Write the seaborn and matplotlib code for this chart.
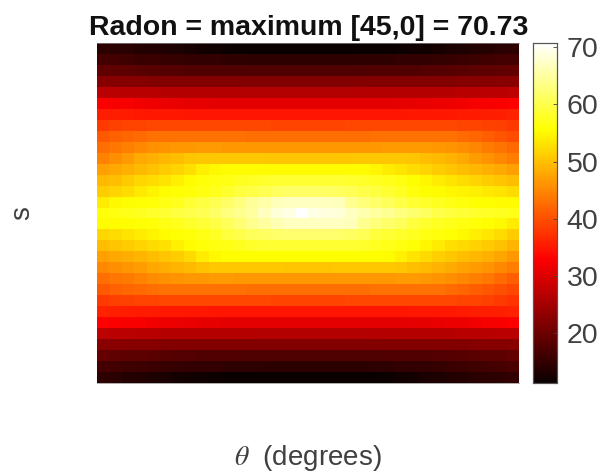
import numpy as np
import matplotlib
matplotlib.use("Agg")
import matplotlib.pyplot as plt
import seaborn as sns

title_text = "Radon = maximum [45,0] = 70.73"
x_label = r"$\theta$  (degrees)"
y_label = "s"
cbar_ticks = [20, 30, 40, 50, 60, 70]

radon_rows = [
[14.5,14.3,14.1,13.8,13.5,13.2,13.0,12.6,12.2,11.8,11.6,11.5,11.4,11.3,11.3,11.3,11.3,11.3,11.3,11.3,11.3,11.4,11.4,11.5,11.6,11.8,12.1,12.4,12.8,13.1,13.5,13.8,14.2,14.6],
[16.4,16.2,16.0,15.7,15.5,15.3,15.2,15.0,14.9,14.8,14.7,14.6,14.5,14.5,14.4,14.4,14.4,14.4,14.4,14.5,14.5,14.6,14.6,14.7,14.8,14.9,15.0,15.2,15.4,15.6,15.8,16.0,16.3,16.6],
[19.0,18.8,18.6,18.4,18.2,18.0,17.9,17.8,17.7,17.6,17.6,17.5,17.5,17.5,17.4,17.4,17.4,17.4,17.4,17.5,17.5,17.5,17.6,17.6,17.7,17.8,17.9,18.0,18.2,18.4,18.6,18.8,19.0,19.2],
[22.4,22.4,22.3,22.3,22.2,22.2,22.1,22.1,22.1,22.0,22.0,22.0,22.0,22.0,22.0,22.0,22.0,22.0,22.0,22.0,22.0,22.0,22.0,22.1,22.1,22.1,22.1,22.2,22.2,22.3,22.3,22.4,22.5,22.6],
[27.0,26.9,26.8,26.7,26.7,26.6,26.5,26.5,26.4,26.4,26.4,26.4,26.3,26.3,26.3,26.3,26.3,26.3,26.3,26.3,26.3,26.4,26.4,26.4,26.4,26.5,26.5,26.6,26.6,26.7,26.8,26.9,27.0,27.1],
[32.8,32.6,32.2,31.9,31.6,31.4,31.2,31.0,30.9,30.8,30.8,30.7,30.7,30.7,30.7,30.6,30.6,30.6,30.7,30.7,30.7,30.7,30.8,30.8,30.9,31.0,31.2,31.4,31.6,31.9,32.2,32.5,32.8,33.0],
[35.6,35.5,35.3,35.2,35.1,35.0,35.0,34.9,34.9,34.9,34.9,34.9,34.9,34.9,34.9,34.9,34.9,34.9,34.9,34.9,34.9,34.9,34.9,34.9,34.9,35.0,35.0,35.1,35.2,35.3,35.4,35.6,35.8,36.0],
[38.0,38.7,39.0,39.1,39.2,39.2,39.2,39.2,39.2,39.2,39.2,39.2,39.2,39.2,39.1,39.1,39.1,39.1,39.1,39.1,39.2,39.2,39.2,39.2,39.2,39.2,39.2,39.2,39.2,39.1,39.0,38.8,38.5,38.0],
[41.0,41.5,42.0,42.5,42.9,43.0,43.0,43.0,43.0,42.9,42.9,42.9,42.8,42.8,42.8,42.8,42.8,42.8,42.8,42.8,42.8,42.8,42.9,42.9,42.9,43.0,43.0,43.0,42.9,42.5,42.0,41.3,40.5,39.7],
[42.8,43.5,44.3,45.0,45.7,46.1,46.4,46.5,46.6,46.6,46.5,46.5,46.5,46.4,46.4,46.4,46.4,46.4,46.4,46.4,46.4,46.5,46.5,46.6,46.6,46.6,46.6,46.4,46.0,45.5,44.8,44.0,43.2,42.4],
[44.5,45.5,46.8,48.0,48.6,49.2,49.8,50.4,50.6,50.7,50.7,50.6,50.6,50.6,50.5,50.5,50.5,50.5,50.5,50.5,50.6,50.6,50.6,50.7,50.7,50.5,50.0,49.4,48.8,48.0,47.0,46.0,45.0,44.2],
[47.2,47.9,48.6,49.6,50.3,51.0,51.8,52.8,54.2,55.0,55.3,55.3,55.3,55.3,55.3,55.3,55.3,55.3,55.3,55.3,55.3,55.3,54.8,54.0,53.2,52.4,51.7,51.0,50.4,49.8,49.2,48.6,48.0,47.2],
[49.4,50.0,50.9,52.0,52.6,53.2,54.2,55.2,55.9,56.4,56.8,57.3,57.8,58.2,58.5,58.6,58.6,58.6,58.6,58.5,58.3,58.0,57.6,57.0,56.5,55.5,54.8,54.0,53.2,52.5,51.8,51.1,50.4,49.8],
[51.2,51.8,52.6,53.6,54.6,55.3,55.7,56.0,56.5,57.2,58.2,59.2,59.8,60.5,61.0,61.5,61.6,61.6,61.5,61.0,60.6,60.0,59.4,58.6,57.6,56.2,55.6,55.2,54.9,54.5,54.1,53.7,53.1,52.5],
[53.9,55.0,55.5,55.8,56.1,56.6,57.2,58.5,59.5,60.5,61.5,63.0,64.5,65.6,66.6,66.9,67.0,67.0,66.9,66.7,64.0,62.8,61.8,60.9,59.8,58.6,58.0,57.4,56.8,56.2,55.7,55.5,55.3,55.2],
[56.0,56.5,57.0,57.4,58.0,58.5,59.5,60.0,60.5,61.5,63.0,63.8,65.0,67.0,68.3,69.0,70.73,69.0,68.7,68.2,67.0,66.0,65.0,64.0,63.0,62.0,61.0,60.0,59.3,58.7,58.2,57.8,57.4,57.0],
[55.2,55.4,55.5,55.7,56.1,56.6,57.2,58.0,58.8,59.8,60.8,62.2,63.8,65.0,66.3,66.8,66.9,66.9,66.9,66.8,66.6,64.0,62.8,61.8,60.8,59.2,58.4,57.6,57.0,56.5,55.9,55.6,55.0,53.9],
[52.0,52.6,53.2,53.8,54.6,55.2,55.7,56.0,56.8,57.8,59.2,60.0,60.8,61.4,61.8,62.0,62.1,62.1,62.0,61.8,61.3,60.7,59.2,58.6,58.0,57.4,56.8,56.2,55.7,55.0,54.2,53.4,52.6,51.2],
[49.8,50.4,51.0,51.8,52.4,53.0,54.2,55.3,56.0,56.4,56.8,57.4,58.0,58.5,58.6,58.6,58.6,58.6,58.6,58.6,58.5,58.2,57.6,57.0,56.4,55.7,54.9,53.8,52.8,52.2,51.6,50.9,50.2,49.0],
[47.2,47.8,48.4,49.0,49.7,50.4,51.2,52.2,53.9,55.0,55.5,55.5,55.5,55.5,55.5,55.5,55.5,55.5,55.5,55.5,55.5,55.5,55.5,55.3,54.4,53.2,52.2,51.4,50.6,49.9,49.2,48.5,47.6,46.5],
[45.0,45.6,46.3,47.0,47.8,48.4,49.0,49.6,50.2,50.6,50.7,50.7,50.6,50.6,50.6,50.5,50.5,50.5,50.5,50.6,50.6,50.6,50.7,50.7,50.4,50.0,49.4,48.9,48.2,47.5,46.7,45.9,45.1,44.1],
[42.8,43.4,44.0,44.6,45.2,45.7,46.1,46.4,46.5,46.6,46.6,46.5,46.5,46.4,46.4,46.4,46.4,46.4,46.4,46.4,46.4,46.5,46.5,46.5,46.6,46.6,46.4,46.0,45.5,45.0,44.4,43.7,42.6,41.4],
[41.0,41.5,42.0,42.4,42.7,42.9,43.0,43.0,43.0,42.9,42.9,42.9,42.8,42.8,42.8,42.8,42.8,42.8,42.8,42.8,42.8,42.8,42.9,42.9,42.9,43.0,43.0,42.9,42.6,42.0,41.4,40.7,40.0,39.2],
[38.0,38.5,38.8,39.0,39.1,39.2,39.2,39.2,39.2,39.2,39.2,39.2,39.2,39.2,39.1,39.1,39.1,39.1,39.1,39.1,39.2,39.2,39.2,39.2,39.2,39.2,39.2,39.2,39.2,39.1,39.0,38.7,38.0,37.5],
[36.0,35.8,35.6,35.4,35.3,35.2,35.1,35.0,35.0,34.9,34.9,34.9,34.9,34.9,34.9,34.9,34.9,34.9,34.9,34.9,34.9,34.9,34.9,34.9,34.9,35.0,35.0,35.1,35.2,35.3,35.5,35.6,35.8,36.0],
[33.0,32.8,32.5,32.2,31.9,31.6,31.4,31.2,31.0,30.9,30.8,30.8,30.7,30.7,30.7,30.7,30.6,30.6,30.6,30.7,30.7,30.7,30.7,30.8,30.8,30.9,31.0,31.2,31.4,31.6,31.9,32.2,32.6,32.8],
[27.1,27.0,26.9,26.8,26.7,26.6,26.6,26.5,26.5,26.4,26.4,26.4,26.4,26.3,26.3,26.3,26.3,26.3,26.3,26.3,26.3,26.3,26.4,26.4,26.4,26.4,26.5,26.5,26.6,26.7,26.7,26.8,26.9,27.0],
[22.6,22.5,22.4,22.3,22.3,22.2,22.2,22.1,22.1,22.1,22.1,22.0,22.0,22.0,22.0,22.0,22.0,22.0,22.0,22.0,22.0,22.0,22.0,22.0,22.1,22.1,22.1,22.1,22.2,22.2,22.3,22.3,22.4,22.5],
[19.2,19.0,18.8,18.6,18.4,18.2,18.0,17.9,17.8,17.7,17.6,17.6,17.5,17.5,17.5,17.4,17.4,17.4,17.4,17.4,17.5,17.5,17.5,17.6,17.6,17.7,17.8,17.9,18.0,18.2,18.4,18.6,18.9,19.4],
[16.6,16.3,16.0,15.8,15.6,15.4,15.2,15.0,14.9,14.8,14.7,14.6,14.6,14.5,14.5,14.4,14.4,14.4,14.4,14.4,14.5,14.5,14.6,14.7,14.8,14.9,15.0,15.2,15.5,15.8,16.0,16.3,16.7,17.0],
[14.6,14.2,13.8,13.5,13.1,12.8,12.4,12.1,11.8,11.6,11.5,11.4,11.4,11.3,11.3,11.3,11.3,11.3,11.3,11.3,11.3,11.4,11.5,11.7,12.0,12.4,12.8,13.1,13.5,13.8,14.1,14.4,14.7,15.0],
]

plt.rcParams["font.family"] = "Liberation Sans"
fig = plt.figure(figsize=(6.01, 4.74), dpi=100)
W, H = 601, 474
ax = fig.add_axes([97 / W, 1 - 383 / H, 422 / W, 340 / H])
cax = fig.add_axes([533 / W, 1 - 383 / H, 24 / W, 340 / H])

sns.heatmap(np.array(radon_rows), ax=ax, cbar_ax=cax, cmap="hot",
            vmin=11.3, vmax=70.73, xticklabels=False, yticklabels=False,
            linewidths=0, rasterized=True)
ax.tick_params(length=0)
for name, side in ax.spines.items():
    side.set_visible(name in ("top", "bottom"))
    side.set_color("#8c8c8c")
    side.set_linewidth(0.5)

fig.text(309 / W, 1 - 35 / H, title_text, fontsize=20.5, fontweight="bold",
         color="#111111", ha="center", va="baseline")
fig.text(308 / W, 1 - 458 / H, x_label, fontsize=20, color="#404040",
         ha="center", va="center", math_fontfamily="stix")
fig.text(22 / W, 1 - 213 / H, y_label, fontsize=20, color="#404040",
         ha="center", va="center", rotation=90)

cax.set_yticks(cbar_ticks)
cax.tick_params(axis="y", direction="in", length=3, width=0.6, color="#404040",
                labelsize=20.5, labelcolor="#404040", pad=7, right=True)
for side in cax.spines.values():
    side.set_visible(True)
    side.set_color("#555555")
    side.set_linewidth(0.8)

fig.savefig("out.png", dpi=100)
